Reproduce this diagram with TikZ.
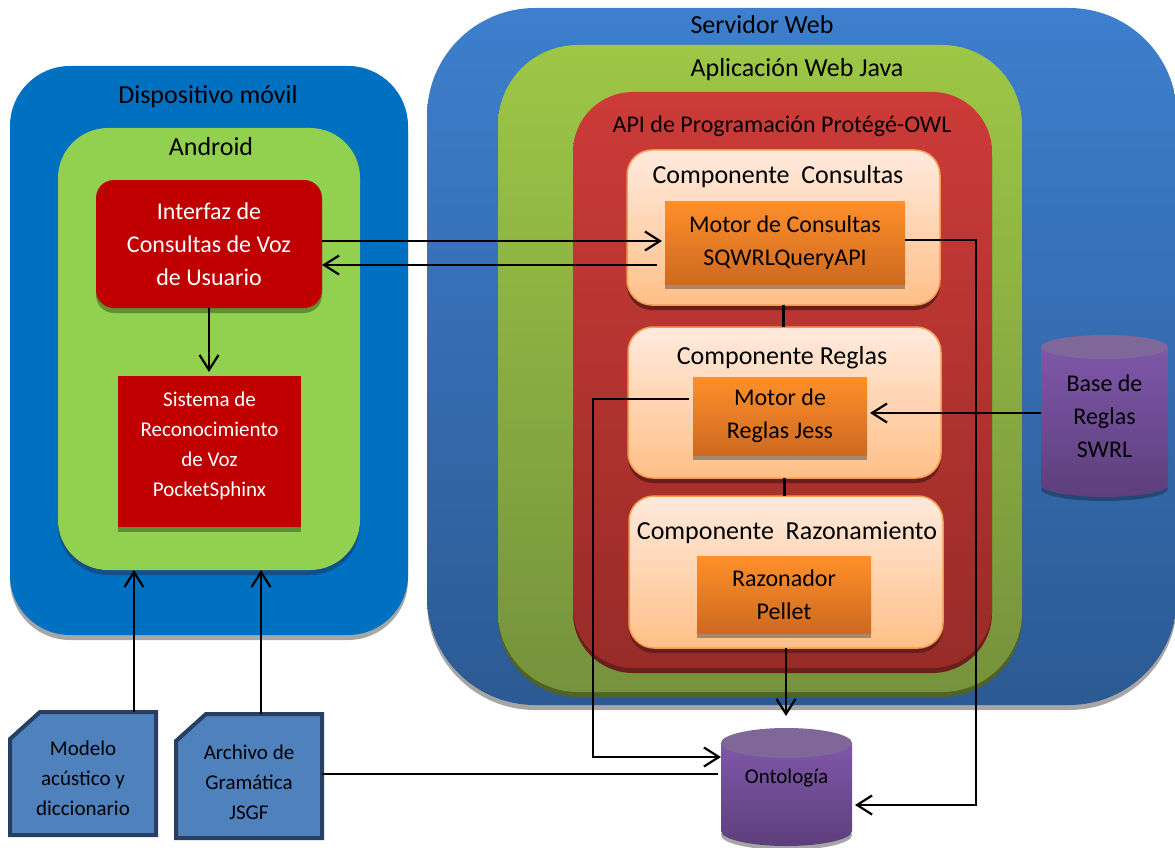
\documentclass[tikz,border=0pt]{standalone}
\usepackage{fontspec}
\setmainfont{Carlito}
\usetikzlibrary{arrows.meta,calc}
\definecolor{dispblue}{HTML}{0070C0}
\definecolor{andgreen}{HTML}{92D050}
\definecolor{andshadow}{HTML}{11508A}
\definecolor{dispshadow}{HTML}{A6A6A6}
\definecolor{redbox}{HTML}{C00000}
\definecolor{redshadow}{HTML}{5F8F33}
\definecolor{srvtop}{HTML}{3D7FCE}
\definecolor{srvbot}{HTML}{2C5A93}
\definecolor{apptop}{HTML}{9DC746}
\definecolor{appbot}{HTML}{76923C}
\definecolor{appshadow}{HTML}{4F6228}
\definecolor{apitop}{HTML}{CC3B38}
\definecolor{apibot}{HTML}{982B28}
\definecolor{apishadow}{HTML}{6B1F1D}
\definecolor{comptop}{HTML}{FFEADD}
\definecolor{compbot}{HTML}{FFBF87}
\definecolor{compborder}{HTML}{F59A4E}
\definecolor{compshadow}{HTML}{6A1E1C}
\definecolor{mottop}{HTML}{FF8F2A}
\definecolor{motbot}{HTML}{CD6920}
\definecolor{motshadow}{HTML}{A5886C}
\definecolor{purtop}{HTML}{7F57A9}
\definecolor{purbot}{HTML}{5D3F7C}
\definecolor{purcap}{HTML}{7F6799}
\definecolor{docfill}{HTML}{4F81BD}
\definecolor{docborder}{HTML}{263F62}
\begin{document}
\begin{tikzpicture}[x=1pt,y=-1pt,
  every node/.style={inner sep=0pt, outer sep=0pt},
  ctitle/.style={font=\fontsize{26}{30}\selectfont, text=black},
  apititle/.style={font=\fontsize{24}{30}\selectfont, text=black},
  whitetext/.style={font=\fontsize{24}{33}\selectfont, text=white, align=center},
  smallwhite/.style={font=\fontsize{21}{30}\selectfont, text=white, align=center},
  mottext/.style={font=\fontsize{24}{33}\selectfont, text=black, align=center},
  doctext/.style={font=\fontsize{21}{30}\selectfont, text=black, align=center},
  shadowed/.style={preaction={fill=#1, transform canvas={yshift=-5pt}}},
  compbox/.style={draw=compborder, line width=1.5pt, top color=comptop, bottom color=compbot,
     rounded corners=25pt, shadowed=compshadow},
  motbox/.style={top color=mottop, bottom color=motbot, shadowed=motshadow},
  docshape/.style={draw=docborder, line width=4pt, fill=docfill, line join=miter},
  conn/.style={line width=2.2pt},
  arr/.style={line width=2.2pt, -{Straight Barb[length=15pt,width=19pt]}}
]
\useasboundingbox (0,0) rectangle (1175,848);

% ---------- left side ----------
\node[fill=dispblue, rounded corners=60pt, minimum width=398pt, minimum height=569pt,
      shadowed=dispshadow] (disp) at (209,350.5) {};
\node[fill=andgreen, rounded corners=50pt, minimum width=302pt, minimum height=442pt,
      shadowed=andshadow] (android) at (209,349) {};
\node[fill=redbox, rounded corners=18pt, minimum width=226pt, minimum height=128pt,
      shadowed=redshadow, whitetext] (iface) at (209,244) {Interfaz de\\Consultas de Voz\\de Usuario};
\node[fill=redbox, minimum width=183pt, minimum height=151pt, shadowed=redshadow] (sist) at (209.5,451.5) {};
\node[smallwhite] (sistT) at (209.5,445.5) {Sistema de\\Reconocimiento\\de Voz\\PocketSphinx};

% ---------- server ----------
\node[top color=srvtop, bottom color=srvbot, rounded corners=108pt, minimum width=750pt,
      minimum height=697pt, shadowed=dispshadow] (srv) at (802,356.5) {};
\node[top color=apptop, bottom color=appbot, rounded corners=80pt, minimum width=524pt,
      minimum height=647pt, shadowed=appshadow] (app) at (760,368.5) {};
\node[top color=apitop, bottom color=apibot, rounded corners=60pt, minimum width=419pt,
      minimum height=576pt, shadowed=apishadow] (api) at (782.5,380) {};

\node[compbox, minimum width=313pt, minimum height=155pt] (comp1) at (783.5,227.5) {};
\node[compbox, minimum width=313pt, minimum height=151pt] (comp2) at (784.5,402.5) {};
\node[compbox, minimum width=314pt, minimum height=152pt] (comp3) at (786,572) {};

\node[motbox, minimum width=240pt, minimum height=83pt, mottext] (mc) at (785,242.5) {Motor de Consultas\\SQWRLQueryAPI};
\node[motbox, minimum width=174pt, minimum height=78pt, mottext] (mr) at (780,416) {Motor de\\Reglas Jess};
\node[motbox, minimum width=174pt, minimum height=77pt, mottext] (rp) at (784,594.5) {Razonador\\Pellet};

% ---------- cylinders ----------
% Base de Reglas SWRL
\fill[srvbot!80!black] (1104.5,489) ellipse [x radius=63.5pt, y radius=12pt];
\shade[top color=purtop, bottom color=purbot] (1041,347) -- (1041,485)
   arc[start angle=180, end angle=360, x radius=63.5pt, y radius=12pt] -- (1168,347) -- cycle;
\fill[purcap] (1104.5,347) ellipse [x radius=63.5pt, y radius=12pt];
\node[mottext, minimum width=127pt, minimum height=162pt] (base) at (1104.5,416) {Base de\\Reglas\\SWRL};
% Ontologia
\fill[dispshadow] (786.5,835) ellipse [x radius=65.5pt, y radius=15pt];
\shade[top color=purtop, bottom color=purbot] (721,743) -- (721,831)
   arc[start angle=180, end angle=360, x radius=65.5pt, y radius=15pt] -- (852,743) -- cycle;
\fill[purcap] (786.5,743) ellipse [x radius=65.5pt, y radius=15pt];
\node[minimum width=131pt, minimum height=118pt] (ont) at (786.5,787) {};
\node[font=\fontsize{21}{30}\selectfont] (ontT) at (786.5,778) {Ontología};

% ---------- documents ----------
\draw[docshape] (10,739) -- (40,712) -- (156,712) -- (156,835) -- (10,835) -- cycle;
\draw[docshape] (176,741) -- (206,714) -- (322,714) -- (322,838) -- (176,838) -- cycle;
\node[minimum width=146pt, minimum height=132pt, doctext] (doc1) at (83,778) {Modelo\\acústico y\\diccionario};
\node[minimum width=146pt, minimum height=136pt, doctext] (doc2) at (249,782) {Archivo de\\Gramática\\JSGF};

% ---------- titles ----------
\node[ctitle] (tdisp) at (208,97) {Dispositivo móvil};
\node[ctitle] (tand) at (211,147) {Android};
\node[ctitle] (tsrv) at (762,25) {Servidor Web};
\node[ctitle] (tapp) at (797,70) {Aplicación Web Java};
\node[apititle] (tapi) at (782,126) {API de Programación Protégé-OWL};
\node[ctitle] (tc1) at (778,177) {Componente\ \ Consultas};
\node[ctitle] (tc2) at (782,358) {Componente Reglas};
\node[ctitle] (tc3) at (787,533) {Componente\ \ Razonamiento};

% ---------- connectors ----------
\coordinate (rc) at (976,805);
\coordinate (lc) at (593,757);
\coordinate (d1) at (134,0);
\coordinate (d2) at (261,0);

\draw[arr, shorten >=4pt] (iface.south) -- (iface.south |- sist.north);
\draw[arr, shorten >=3pt] ([yshift=3pt]iface.east) -- ([yshift=3pt]iface.east -| mc.west);
\draw[arr, shorten <=8pt] ([yshift=-22.5pt]mc.west) -- ([yshift=-22.5pt]mc.west -| iface.east);
\draw[arr, shorten >=3pt] ([yshift=2.5pt]mc.east) -| (rc) -- (rc -| ont.east);
\draw[arr, shorten <=4pt] ([yshift=17pt]mr.west) -| (lc) -- (lc -| ont.west);
\draw[arr, shorten >=3pt] ([yshift=3pt]base.west) -- ([yshift=3pt]base.west -| mr.east);
\draw[conn] (comp1.south) -- (comp1.south |- comp2.north);
\draw[conn] (comp2.south) -- (comp2.south |- comp3.north);
\draw[arr, shorten >=12pt] (comp3.south) -- (comp3.south |- ont.north);
\draw[arr] (d1 |- doc1.north) -- (d1 |- android.south);
\draw[arr] (d2 |- doc2.north) -- (d2 |- android.south);
\draw[conn, shorten >=3pt] ([yshift=8pt]doc2.east) -- ([yshift=8pt]doc2.east -| ont.west);
\end{tikzpicture}
\end{document}
